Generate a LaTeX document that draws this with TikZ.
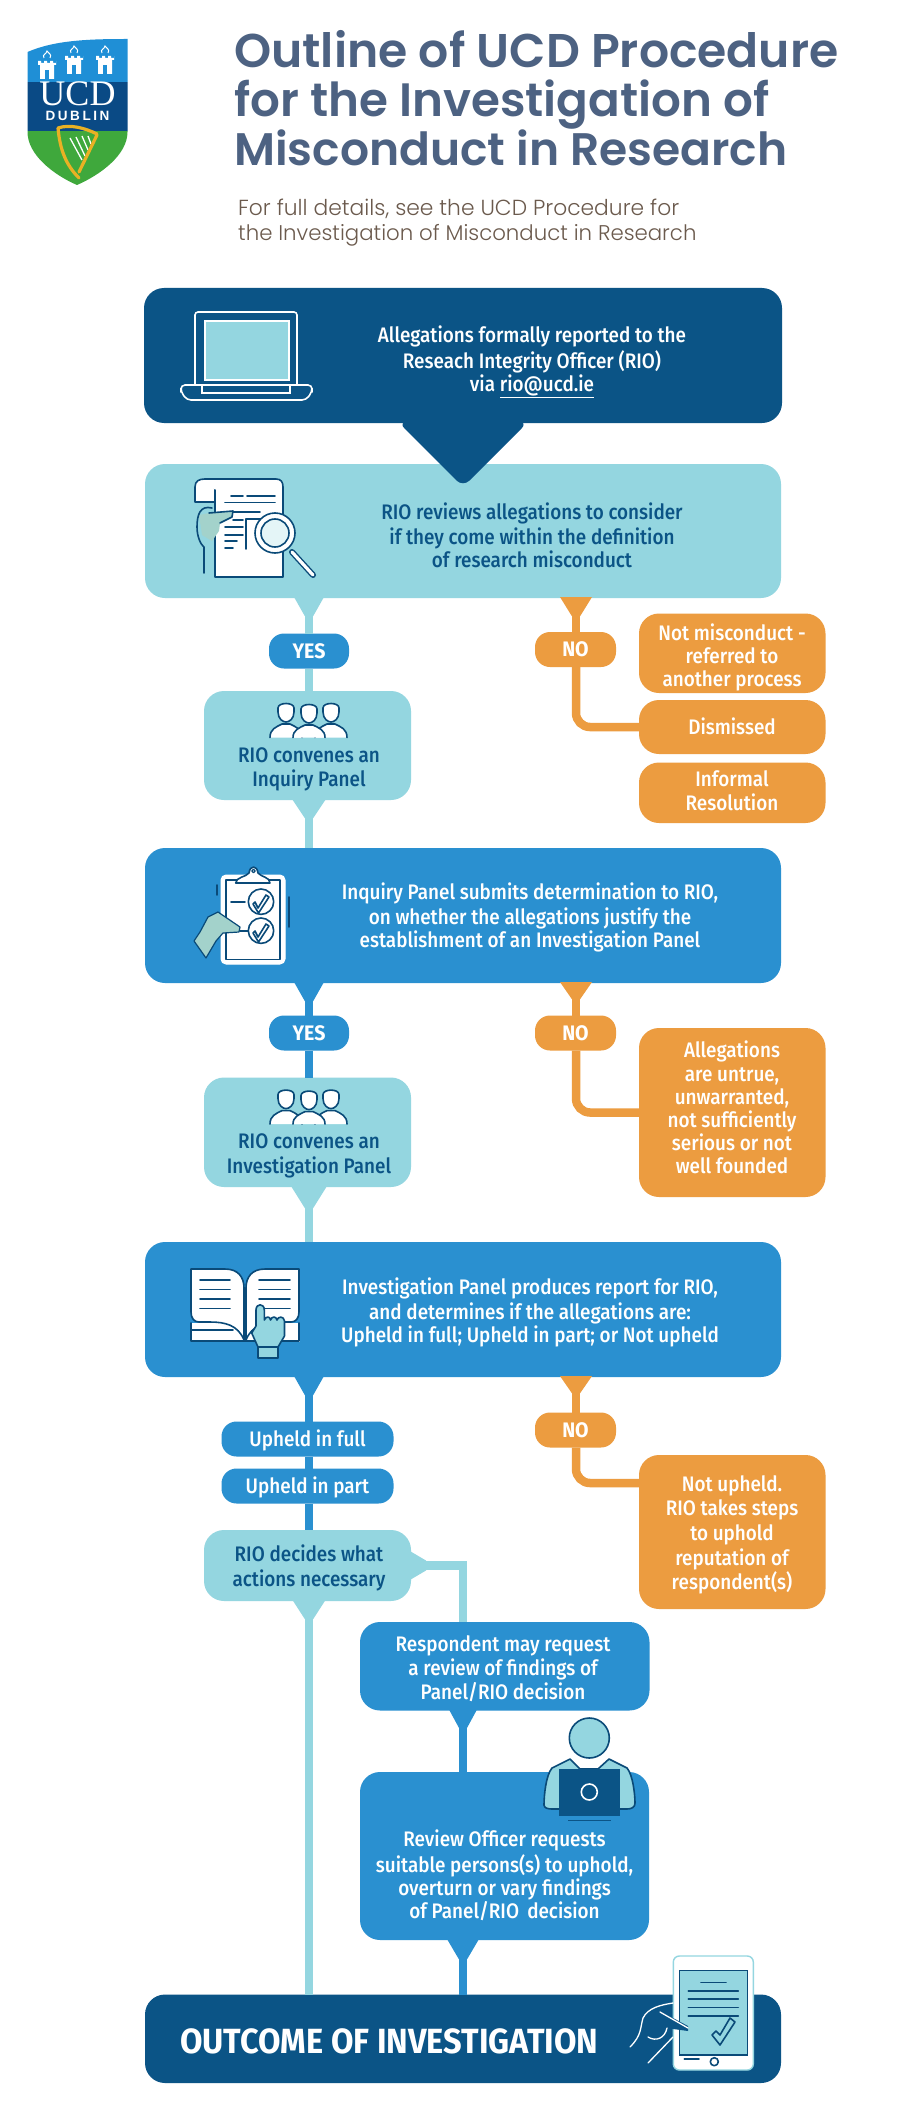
\documentclass[tikz,border=0pt]{standalone}
\usepackage{fontspec}
\usetikzlibrary{calc}
\newfontfamily\bodyf[FakeStretch=0.90]{Fira Sans Medium}
\newfontfamily\boldf[FakeStretch=0.93]{Fira Sans Bold}
\newfontfamily\titlef{Poppins SemiBold}
\newfontfamily\subf{Poppins Light}
\newfontfamily\crestserif{Liberation Serif}
\newfontfamily\crestsans{Liberation Sans}
\definecolor{navy}{HTML}{0B5486}
\definecolor{lblue}{HTML}{94D6E0}
\definecolor{mblue}{HTML}{2A90D0}
\definecolor{orng}{HTML}{EC9C40}
\definecolor{slate}{HTML}{4D6282}
\definecolor{subbrown}{HTML}{6B5A4D}
\definecolor{handteal}{HTML}{A3D2CB}
\definecolor{iconnavy}{HTML}{0A4A78}
\definecolor{crestblue}{HTML}{1F8FD6}
\definecolor{crestnavy}{HTML}{0A4A85}
\definecolor{crestgreen}{HTML}{3FA83C}
\definecolor{gold}{HTML}{E9B124}
\tikzset{
  panelbox/.style={rectangle,rounded corners=20pt,inner sep=0pt,outer sep=0pt},
  pillbox/.style={rectangle,rounded corners=15pt,inner sep=0pt,outer sep=0pt,minimum height=35pt,text height=14pt,text depth=0pt,text=white,font=\bodyf\fontsize{21}{23}\selectfont},
  yesno/.style={pillbox,font=\boldf\fontsize{21}{23}\selectfont},
  label/.style={align=center,inner sep=0pt,font=\bodyf\fontsize{21}{23.2}\selectfont},
  stem/.style={line width=8.5pt},
  ic/.style={draw=iconnavy,line width=1.6pt,line join=round,line cap=round},
}
\newcommand{\panel}[6]{%
  \pgfmathsetmacro{\pw}{#4-#2}\pgfmathsetmacro{\ph}{#5-#3}%
  \pgfmathsetmacro{\pcx}{(#2+#4)/2}\pgfmathsetmacro{\pcy}{(#3+#5)/2}%
  \node[panelbox,fill=#6,minimum width=\pw pt,minimum height=\ph pt] (#1) at (\pcx,\pcy) {};}
\newcommand{\taildown}[5]{\fill[#1] #2 ++(-#3,-1) -- ++({#3-#5},{#4+1}) -- ++({2*#5},0) -- ++({#3-#5},{-#4-1}) -- cycle;}
\newcommand{\manicon}[3]{\begin{scope}[shift={(#1,#2)}]
  \filldraw[ic,fill=white] (-16,#3) .. controls (-16,27) and (-10,25) .. (-4,22) -- (4,22) .. controls (10,25) and (16,27) .. (16,#3);
  \filldraw[ic,fill=white] (-8,6) .. controls (-8,0) and (8,0) .. (8,6) -- (8,10) .. controls (8,17) and (3,20) .. (0,20) .. controls (-3,20) and (-8,17) .. (-8,10) -- cycle;
\end{scope}}
\newcommand{\peopleicon}[1]{\begin{scope}[shift={(0,#1)}]
  \manicon{286}{702}{35.5}\manicon{331}{702}{35.5}\manicon{309}{703}{34.5}
\end{scope}}
\newcommand{\castle}[2]{\begin{scope}[shift={(#1,#2)}]
  \fill[white] (-9,3) -- (-9,-1) -- (-6,-1) -- (-6,1) -- (-3,1) -- (-3,-1) -- (0,-1) -- (0,1) -- (3,1) -- (3,-1) -- (6,-1) -- (6,1) -- (9,1) -- (9,-1) -- (9,3) -- (7,3) -- (7,17) -- (-7,17) -- (-7,3) -- cycle;
  \fill[crestblue] (-2,8) rectangle (2,17);
  \draw[white,line width=1pt] (-3,-4) .. controls (-5,-8) and (-1,-7) .. (0,-11) .. controls (2,-8) and (5,-8) .. (3,-4);
\end{scope}}
\begin{document}
\begin{tikzpicture}[x=1pt,y=-1pt]
\useasboundingbox (0,0) rectangle (900,2124);
\fill[white] (0,0) rectangle (900,2124);

% crest
\begin{scope}
  \clip (27.5,52) .. controls (55,40) and (90,39) .. (127.5,39) -- (127.5,132) .. controls (127.5,155) and (100,175) .. (77,185) .. controls (54,175) and (27.5,155) .. (27.5,132) -- cycle;
  \fill[crestblue] (20,30) rectangle (135,82);
  \fill[crestnavy] (20,82) rectangle (135,131);
  \fill[crestgreen] (20,131) rectangle (135,190);
\end{scope}
\castle{47}{62}\castle{74}{57}\castle{105}{57}
\node[anchor=base,inner sep=0pt,text=white,font=\crestserif\fontsize{36}{37}\selectfont] (crestucd) at (77.5,106) {UCD};
\node[anchor=base,inner sep=0pt,text=white,font=\crestsans\bfseries\fontsize{13.5}{14}\selectfont] (crestdub) at (77.5,121) {D\hspace{2.6pt}U\hspace{2.6pt}B\hspace{2.6pt}L\hspace{2.6pt}I\hspace{2.6pt}N};
\draw[white,line width=1.3pt] (70,138) -- (82,160) (76,137) -- (85,156) (82,136) -- (88,150) (88,136) -- (91,144);
\draw[gold,line width=3.2pt,line cap=round,line join=round] (97,134) .. controls (85,128) and (70,124) .. (58,128) .. controls (60,150) and (66,165) .. (79,178);
\draw[gold,line width=3.2pt,line cap=round] (97,135) -- (79,172);

% title
\node[anchor=base west,inner sep=0pt,text=slate,font=\titlef\fontsize{47.3}{49}\selectfont] (title1) at (234,68) {Outline of UCD Procedure};
\node[anchor=base west,inner sep=0pt,text=slate,font=\titlef\fontsize{46.8}{49}\selectfont] (title2) at (234,117) {for the Investigation of};
\node[anchor=base west,inner sep=0pt,text=slate,font=\titlef\fontsize{45.6}{49}\selectfont] (title3) at (234,166) {Misconduct in Research};
\node[anchor=base west,inner sep=0pt,text=subbrown,font=\subf\fontsize{21.8}{25}\selectfont] (sub1) at (238,216) {For full details, see the UCD Procedure for};
\node[anchor=base west,inner sep=0pt,text=subbrown,font=\subf\fontsize{21.3}{25}\selectfont] (sub2) at (238,241) {the Investigation of Misconduct in Research};

% panels
\panel{boxa}{144}{288}{782}{423}{navy}
\panel{boxb}{145}{464}{781}{598}{lblue}
\panel{convA}{204}{691}{411}{800}{lblue}
\panel{boxc}{145}{848}{781}{983}{mblue}
\panel{convB}{204}{1077.5}{411}{1187}{lblue}
\panel{boxd}{145}{1242}{781}{1377}{mblue}
\panel{rdec}{204}{1530}{411}{1601}{lblue}
\panel{resp}{360}{1622}{649.5}{1710.5}{mblue}
\panel{revw}{360}{1772}{649}{1940}{mblue}
\panel{outc}{145}{1994.5}{781}{2083}{navy}
\panel{onot}{639}{613.5}{825.5}{693}{orng}
\panel{odis}{639}{700}{825.5}{754}{orng}
\panel{oinf}{639}{762.5}{825.5}{823}{orng}
\panel{oall}{639}{1028}{825.5}{1197}{orng}
\panel{onup}{639}{1455}{825.5}{1609}{orng}

% pills
\node[yesno,fill=mblue,minimum width=80pt] (yesA) at (309,651) {YES};
\node[yesno,fill=orng,minimum width=81pt] (noA) at (575.5,649.5) {NO};
\node[yesno,fill=mblue,minimum width=80pt] (yesB) at (309,1033) {YES};
\node[yesno,fill=orng,minimum width=81pt] (noB) at (575.5,1033) {NO};
\node[pillbox,fill=mblue,minimum width=172pt] (upfull) at (307.5,1439) {Upheld in full};
\node[pillbox,fill=mblue,minimum width=172pt] (uppart) at (307.5,1486) {Upheld in part};
\node[yesno,fill=orng,minimum width=81pt] (noC) at (575.5,1430) {NO};

% lanes
\coordinate (lane) at (309,0);
\coordinate (lanen) at (576,0);
\coordinate (laner) at (463,0);
\coordinate (nuin) at (639,1483);

% connectors: left lane
\taildown{lblue}{(lane |- boxb.south)}{15}{18}{4.25}
\draw[stem,lblue] (lane |- boxb.south) -- (lane |- yesA.north);
\draw[stem,lblue] (lane |- yesA.south) -- (lane |- convA.north);
\taildown{lblue}{(lane |- convA.south)}{17}{18}{4.25}
\draw[stem,lblue] (lane |- convA.south) -- (lane |- boxc.north);
\taildown{mblue}{(lane |- boxc.south)}{15}{18}{4.25}
\draw[stem,mblue] (lane |- boxc.south) -- (lane |- yesB.north);
\draw[stem,mblue] (lane |- yesB.south) -- (lane |- convB.north);
\taildown{lblue}{(lane |- convB.south)}{18}{21}{4.25}
\draw[stem,lblue] (lane |- convB.south) -- (lane |- boxd.north);
\taildown{mblue}{(lane |- boxd.south)}{15}{18}{4.25}
\draw[stem,mblue] (lane |- boxd.south) -- (lane |- upfull.north);
\draw[stem,mblue] (lane |- upfull.south) -- (lane |- uppart.north);
\draw[stem,mblue] (lane |- uppart.south) -- (lane |- rdec.north);
\taildown{lblue}{(lane |- rdec.south)}{16.5}{18}{4.25}
\draw[stem,lblue] (lane |- rdec.south) -- (lane |- outc.north);
% connectors: right lane (NO)
\taildown{orng}{(lanen |- boxb.south)}{16}{18}{4.25}
\draw[stem,orng] (lanen |- boxb.south) -- (lanen |- noA.north);
\draw[stem,orng,rounded corners=14pt] (lanen |- noA.south) -- (lanen |- odis.west) -- (odis.west);
\taildown{orng}{(lanen |- boxc.south)}{16}{16}{4.25}
\draw[stem,orng] (lanen |- boxc.south) -- (lanen |- noB.north);
\draw[stem,orng,rounded corners=14pt] (lanen |- noB.south) -- (lanen |- oall.west) -- (oall.west);
\taildown{orng}{(lanen |- boxd.south)}{16}{16}{4.25}
\draw[stem,orng] (lanen |- boxd.south) -- (lanen |- noC.north);
\draw[stem,orng,rounded corners=14pt] (lanen |- noC.south) -- (lanen |- nuin) -- (nuin);
% connectors: review lane
\fill[lblue] ($(rdec.east)+(-2,-15)$) -- ($(rdec.east)+(15,-5)$) -- ($(rdec.east)+(15,5)$) -- ($(rdec.east)+(-2,15)$) -- cycle;
\draw[stem,lblue,line join=miter] (rdec.east) -- (laner |- rdec.east) -- (laner |- resp.north);
\taildown{mblue}{(laner |- resp.south)}{14}{17}{4.25}
\draw[stem,mblue] (laner |- resp.south) -- (laner |- revw.north);
\taildown{mblue}{(laner |- revw.south)}{16}{19}{4.25}
\draw[stem,mblue] (laner |- revw.south) -- (laner |- outc.north);
% big tail
\fill[navy,rounded corners=9pt] ($(boxa.south)+(-65,-1)$) -- ($(boxa.south)+(0,64)$) -- ($(boxa.south)+(65,-1)$) -- cycle;

% texts
\node[label,text=white] (ta) at (532,362) {\strut Allegations formally reported to the\\Reseach Integrity Officer (RIO)\\via \underline{rio@ucd.ie}\strut};
\node[label,text=navy] (tb) at (532,539) {\strut RIO reviews allegations to consider\\if they come within the definition\\of research misconduct\strut};
\node[label,text=navy] (tca) at (309,770) {\strut RIO convenes an\\Inquiry Panel\strut};
\node[label,text=white] (tc) at (530,918.4) {\strut Inquiry Panel submits determination to RIO,\\on whether the allegations justify the\\establishment of an Investigation Panel\strut};
\node[label,text=navy] (tcb) at (309,1156) {\strut RIO convenes an\\Investigation Panel\strut};
\node[label,text=white] (td) at (530,1313.6) {\strut Investigation Panel produces report for RIO,\\and determines if the allegations are:\\Upheld in full; Upheld in part; or Not upheld\strut};
\node[label,text=navy] (tr) at (309,1569) {\strut RIO decides what\\actions necessary\strut};
\node[label,text=white] (tresp) at (503,1670.5) {\strut Respondent may request\\a review of findings of\\Panel/RIO decision\strut};
\node[label,text=white] (trev) at (504.5,1877.6) {\strut Review Officer requests\\suitable persons(s) to uphold,\\overturn or vary findings\\of Panel/RIO\, decision\strut};
\node[label,text=white] (to1) at (732,658.4) {\strut Not misconduct -\\referred to\\another process\strut};
\node[label,text=white] (to2) at (732,729.4) {\strut Dismissed\strut};
\node[label,text=white] (to3) at (732,794) {\strut Informal\\Resolution\strut};
\node[label,text=white] (to4) at (732,1111) {\strut Allegations\\are untrue,\\unwarranted,\\not sufficiently\\serious or not\\well founded\strut};
\node[label,text=white,font=\bodyf\fontsize{21}{24.6}\selectfont] (to5) at (732,1535.6) {\strut Not upheld.\\RIO takes steps\\to uphold\\reputation of\\respondent(s)\strut};
\node[anchor=base west,inner sep=0pt,text=white,font=\boldf\fontsize{35}{38}\selectfont] (tout) at (180,2053) {OUTCOME OF INVESTIGATION};

% laptop icon
\draw[white,line width=1.6pt,rounded corners=3pt] (195,385) -- (195,312) -- (297,312) -- (297,385);
\fill[lblue] (205,321) rectangle (289,380);
\draw[white,line width=1.6pt] (205,321) rectangle (289,380);
\draw[white,line width=1.6pt,rounded corners=4pt] (181,385) -- (312,385) -- (312,392) -- (306,400) -- (187,400) -- (181,392) -- cycle;
\draw[white,line width=1.6pt] (202,385) -- (202,393) -- (290,393) -- (290,385);

% document icon
\filldraw[ic,fill=white] (195,502) -- (195,487) .. controls (195,481) and (199,479) .. (205,479) .. controls (212,479) and (215,484) .. (215,490) -- (215,502) -- cycle;
\filldraw[ic,fill=white] (205,479) -- (276,479) .. controls (281,479) and (283,482) .. (283,487) -- (283,577) -- (215,577) -- (215,546) -- (215,490);
\draw[ic] (231,496) -- (243,496) (247,496) -- (275,496) (225,502.5) -- (275,502.5) (225,512) -- (260,512) (233,520) -- (243,520) (225,527) -- (243,527) (225,535) -- (243,535) (225,541) -- (237,541) (225,548) -- (233,548);
\draw[ic] (246,549) -- (246,519) -- (262,519);
\fill[handteal] (209,513) -- (233,511) -- (232,517) -- (220,523) -- (219,531) -- (212,541) -- (202,535) -- (199,515) -- cycle;
\draw[ic] (212,508) .. controls (200,505) and (197,515) .. (197,527) .. controls (197,537) and (201,545) .. (204,547) -- (204,573);
\draw[ic] (209,513) -- (233,511) -- (232,517) -- (220,523);
\draw[ic,line width=6pt] (292,552) -- (313,575);
\draw[white,line width=3.2pt,line cap=round] (292,552) -- (313,575);
\filldraw[ic,fill=white] (275,533) circle[radius=20];
\filldraw[ic,fill=lblue!25!white] (275,533) circle[radius=14];

% clipboard icon
\draw[ic] (216.7,885) -- (216.7,895) (289,897) -- (289,927);
\filldraw[draw=white,fill=white,rounded corners=5pt,line width=1pt] (221,875) rectangle (285,964);
\draw[ic] (225.7,880) rectangle (280,959.3);
\filldraw[ic,fill=white] (235.7,883) .. controls (236,877) and (246,877) .. (249,873) .. controls (250,865) and (257,865) .. (258,873) .. controls (261,877) and (270,877) .. (270,883) -- cycle;
\draw[ic,line width=1.2pt] (253.5,871) circle[radius=1.8];
\draw[ic] (261,901.7) circle[radius=12.7] (261,930.7) circle[radius=12.7];
\draw[ic] (231,901.7) -- (245,901.7) (240,931) -- (248,931);
\draw[ic] (255,902) -- (258,908) -- (266,895) -- (269,897) -- (258.5,913) -- (253,904) -- cycle;
\draw[ic] (255,931) -- (258,937) -- (266,924) -- (269,926) -- (258.5,942) -- (253,933) -- cycle;
\filldraw[draw=iconnavy,line width=1.2pt,fill=handteal,line join=round] (194,941) -- (200,932) -- (208,917) -- (218,912) -- (240,927) -- (239,932) -- (223,933) -- (216,941) -- (206,958) -- cycle;

% book icon
\draw[white,fill=white,line width=1pt] (191,1323) rectangle (299,1341);
\draw[ic] (191,1323) -- (191,1341) -- (299,1341) -- (299,1323);
\draw[ic] (192,1330) -- (233,1330);
\filldraw[ic,fill=white] (191,1269) -- (225,1269) .. controls (238,1269) and (244,1277) .. (244,1288) -- (244,1340) .. controls (238,1325) and (225,1322) .. (210,1322) -- (199,1322) .. controls (194,1322) and (191,1318) .. (191,1312) -- cycle;
\filldraw[ic,fill=white] (299,1269) -- (265,1269) .. controls (252,1269) and (246,1277) .. (246,1288) -- (246,1340) .. controls (252,1325) and (265,1322) .. (280,1322) -- (291,1322) .. controls (296,1322) and (299,1318) .. (299,1312) -- cycle;
\draw[ic] (200,1280) -- (230,1280) (200,1289.3) -- (230,1289.3) (200,1299) -- (230,1299) (200,1308.3) -- (230,1308.3) (259,1280) -- (290,1280) (259,1289.3) -- (290,1289.3) (259,1299) -- (290,1299) (259,1308.3) -- (290,1308.3);
\filldraw[ic,fill=lblue] (258,1347) rectangle (278,1358);
\filldraw[ic,fill=lblue] (251.7,1333) -- (256,1326) -- (256,1310) .. controls (256,1303) and (264.3,1303) .. (264.3,1310) -- (264.3,1320) .. controls (266,1316) and (270,1316) .. (270.5,1320) .. controls (272,1316) and (276,1316) .. (277,1320) .. controls (278,1316) and (284,1316) .. (284.5,1321) -- (284.5,1336) -- (278,1347) -- (258,1347) -- cycle;

% people icons
\peopleicon{0}
\peopleicon{386.6}

% officer icon
\filldraw[ic,fill=lblue] (589.3,1738) circle[radius=20];
\filldraw[ic,fill=lblue] (570,1759) -- (552,1768) .. controls (546,1775) and (544,1795) .. (544,1805) .. controls (544,1808) and (548,1809) .. (552,1809) -- (627,1809) .. controls (632,1809) and (635,1807) .. (635,1803) .. controls (635,1795) and (633,1775) .. (627,1768) -- (609,1759) -- (598,1769) -- (580,1769) -- cycle;
\fill[navy] (559,1768.7) rectangle (620,1816);
\draw[white,line width=1.6pt] (589.3,1792) circle[radius=8];
\draw[navy,line width=1.6pt] (568,1820.5) -- (611,1820.5);

% tablet icon
\filldraw[draw=lblue,fill=white,line width=1.4pt,rounded corners=6pt] (673.3,1956) rectangle (753.3,2070);
\filldraw[draw=iconnavy,fill=lblue,line width=1.4pt] (679.3,1970.7) rectangle (747.7,2055);
\draw[ic] (701,1982.3) -- (726,1982.3) (688.3,1990.7) -- (738.3,1990.7) (688.3,1999) -- (738.3,1999) (688.3,2007.3) -- (738.3,2007.3) (688.3,2015.7) -- (738.3,2015.7);
\draw[ic] (712,2035) -- (720,2045) -- (735,2022) -- (730,2018) -- (720,2035) -- (716,2031) -- cycle;
\draw[ic] (684.3,2058.7) -- (699,2058.7);
\draw[ic] (714.3,2061.7) circle[radius=4];
\fill[navy] (660,2011) -- (688,2026) -- (688,2031) -- (666,2028) -- cycle;
\draw[white,line width=1.3pt,line cap=round] (630,2047) .. controls (642,2035) and (640,2028) .. (643,2018) .. controls (648,2008) and (660,2005) .. (673,2003);
\draw[white,line width=1.3pt,line cap=round] (660,2012) -- (688,2028);
\draw[white,line width=1.3pt,line cap=round] (648,2037) .. controls (656,2042) and (665,2038) .. (667,2028);
\draw[white,line width=1.3pt,line cap=round] (648,2063) -- (673,2037);
\end{tikzpicture}
\end{document}
